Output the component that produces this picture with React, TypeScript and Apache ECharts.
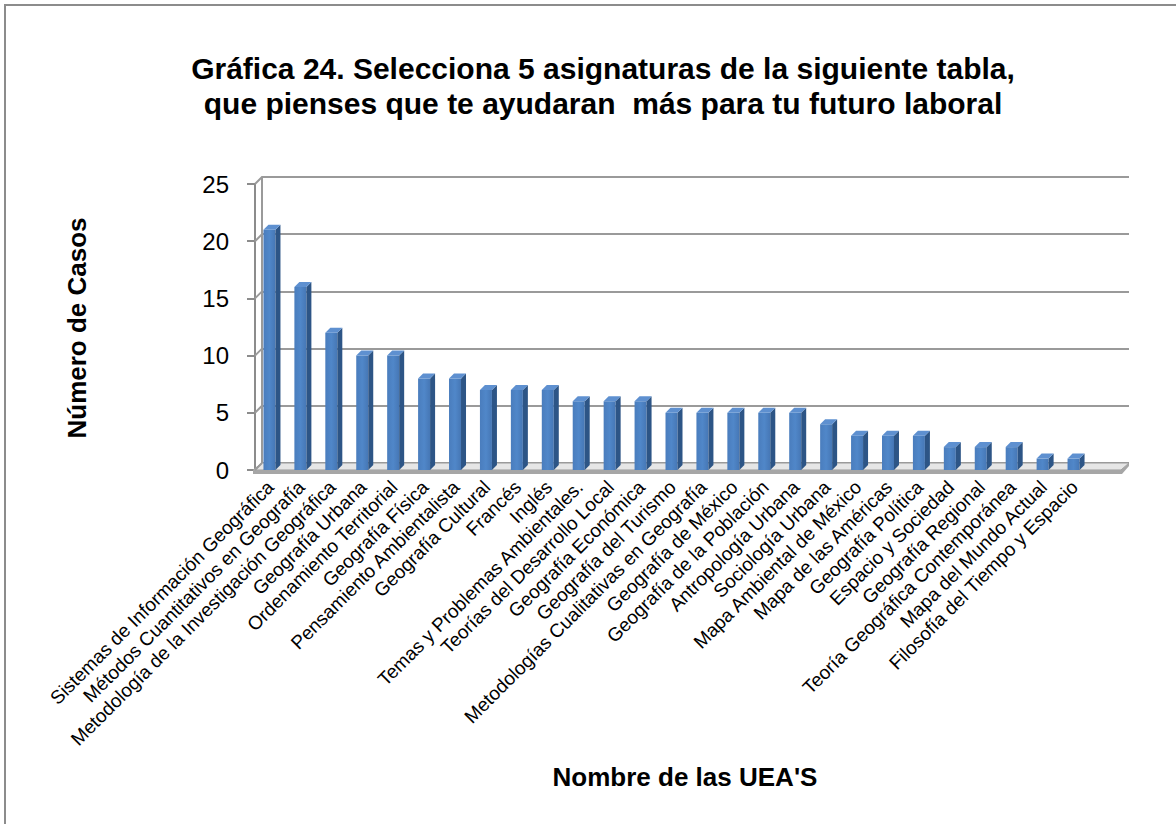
import React, { useEffect, useRef } from "react";
import * as echarts from "echarts";

const categories = [
  "Sistemas de Información Geográfica",
  "Métodos Cuantitativos en Geografía",
  "Metodología de la Investigación Geográfica",
  "Geografía Urbana",
  "Ordenamiento Territorial",
  "Geografía Física",
  "Pensamiento Ambientalista",
  "Geografía Cultural",
  "Francés",
  "Inglés",
  "Temas y Problemas Ambientales.",
  "Teorías del Desarrollo Local",
  "Geografía Económica",
  "Geografía del Turismo",
  "Metodologías Cualitativas en Geografía",
  "Geografía de México",
  "Geografía de la Población",
  "Antropología Urbana",
  "Sociología Urbana",
  "Mapa Ambiental de México",
  "Mapa de las Américas",
  "Geografía Política",
  "Espacio y Sociedad",
  "Geografía Regional",
  "Teoría Geográfica Contemporánea",
  "Mapa del Mundo Actual",
  "Filosofía del Tiempo y Espacio",
];

const casos = [21, 16, 12, 10, 10, 8, 8, 7, 7, 7, 6, 6, 6, 5, 5, 5, 5, 5, 4, 3, 3, 3, 2, 2, 2, 1, 1];

const yMin = 0;
const yMax = 25;
const yStep = 5;
const yTicks = [0, 5, 10, 15, 20, 25];

const titleText = "Gráfica 24. Selecciona 5 asignaturas de la siguiente tabla,\nque pienses que te ayudaran  más para tu futuro laboral";
const yTitle = "Número de Casos";
const xTitle = "Nombre de las UEA'S";

const FONT = "'Liberation Sans', Arial, Helvetica, sans-serif";

export default function App() {
  const ref = useRef<HTMLDivElement>(null);

  useEffect(() => {
    if (!ref.current) return;
    const chart = echarts.init(ref.current, undefined, { renderer: "svg" });

    const renderBar = (params: any, api: any) => {
      const idx = api.value(0);
      const v = api.value(1);
      const top = api.coord([idx, v]);
      const base = api.coord([idx, 0]);
      const cx = top[0];
      const ty = top[1];
      const by = base[1];
      const l = cx - 7;
      const r = cx + 5;
      const d = 5;
      return {
        type: "group",
        children: [
          {
            type: "rect",
            shape: { x: l, y: ty, width: r - l, height: by - ty },
            style: {
              fill: new echarts.graphic.LinearGradient(0, 0, 1, 0, [
                { offset: 0, color: "#4a7dbd" },
                { offset: 0.5, color: "#5087c9" },
                { offset: 1, color: "#4677b5" },
              ]),
            },
          },
          {
            type: "polygon",
            shape: { points: [[r, ty], [r + d, ty - d], [r + d, by - d], [r, by]] },
            style: { fill: "#2d5586" },
          },
          {
            type: "polygon",
            shape: { points: [[l, ty], [l + d, ty - d], [r + d, ty - d], [r, ty]] },
            style: { fill: "#5e90d0" },
          },
        ],
      };
    };

    // front plane: 0 -> y 470, 25 -> y 184 ; back plane is shifted (+7, -7)
    const frontY = (t: number) => 470 - (t - yMin) * (286 / (yMax - yMin));
    const wallLinks = yTicks.map((t) => ({
      type: "line",
      shape: { x1: 255, y1: frontY(t), x2: 262, y2: frontY(t) - 7 },
      style: { stroke: "#9a9a9a", lineWidth: 2 },
      z: 2,
    }));

    const option: any = {
      animation: false,
      backgroundColor: "#ffffff",
      textStyle: { fontFamily: FONT },
      title: {
        text: titleText,
        left: 598,
        top: 46,
        textAlign: "center",
        textStyle: {
          fontFamily: FONT,
          fontSize: 30,
          fontWeight: "bold",
          color: "#000",
          lineHeight: 35,
        },
      },
      grid: [
        { left: 255, top: 184, width: 835, height: 286, containLabel: false },
        { left: 262, top: 177, width: 867, height: 286, containLabel: false },
      ],
      xAxis: [
        {
          type: "category",
          gridIndex: 0,
          data: categories,
          boundaryGap: true,
          axisLine: { show: false },
          axisTick: { show: false },
          axisLabel: {
            interval: 0,
            rotate: 45,
            fontSize: 19,
            color: "#000",
            fontFamily: FONT,
            margin: 14,
          },
          splitLine: { show: false },
        },
        {
          type: "value",
          gridIndex: 1,
          min: 0,
          max: 1,
          show: false,
        },
      ],
      yAxis: [
        {
          type: "value",
          gridIndex: 0,
          min: yMin,
          max: yMax,
          interval: yStep,
          axisLine: { show: true, lineStyle: { color: "#8c8c8c", width: 2 } },
          axisTick: { show: true, length: 8, lineStyle: { color: "#8c8c8c", width: 2 } },
          axisLabel: { fontSize: 24, color: "#000", fontFamily: FONT, margin: 26 },
          splitLine: { show: false },
        },
        {
          type: "value",
          gridIndex: 1,
          min: yMin,
          max: yMax,
          interval: yStep,
          axisLine: { show: true, lineStyle: { color: "#9a9a9a", width: 2 } },
          axisTick: { show: false },
          axisLabel: { show: false },
          splitLine: { show: true, lineStyle: { color: "#9a9a9a", width: 2 } },
        },
      ],
      graphic: [
        {
          type: "rect",
          shape: { x: 5, y: 5, width: 1300, height: 1000 },
          style: { fill: "none", stroke: "#8c8c8c", lineWidth: 2 },
          z: 0,
        },
        ...wallLinks,
        {
          type: "polygon",
          shape: { points: [[253, 470], [262, 463], [1129, 463], [1121, 470]] },
          style: { fill: "#e6e6e6", stroke: "#9a9a9a", lineWidth: 1 },
          z: 1,
        },
        {
          type: "polygon",
          shape: { points: [[253, 470], [1121, 470], [1129, 463], [1129, 466], [1122, 474], [253, 474]] },
          style: { fill: "#a6a6a6" },
          z: 1,
        },
        {
          type: "text",
          x: 77,
          y: 328,
          rotation: Math.PI / 2,
          style: {
            text: yTitle,
            fontSize: 26,
            fontWeight: "bold",
            fontFamily: FONT,
            fill: "#000",
            align: "center",
            verticalAlign: "middle",
          },
          z: 5,
        },
        {
          type: "text",
          x: 685,
          y: 777,
          style: {
            text: xTitle,
            fontSize: 26,
            fontWeight: "bold",
            fontFamily: FONT,
            fill: "#000",
            align: "center",
            verticalAlign: "middle",
          },
          z: 5,
        },
      ],
      series: [
        {
          type: "custom",
          xAxisIndex: 0,
          yAxisIndex: 0,
          z: 10,
          renderItem: renderBar,
          encode: { x: 0, y: 1 },
          data: casos.map((v, i) => [i, v]),
        },
      ],
    };

    chart.setOption(option);
    return () => chart.dispose();
  }, []);

  return (
    <div
      ref={ref}
      style={{ position: "fixed", left: 0, top: 0, width: 1176, height: 824 }}
    />
  );
}
